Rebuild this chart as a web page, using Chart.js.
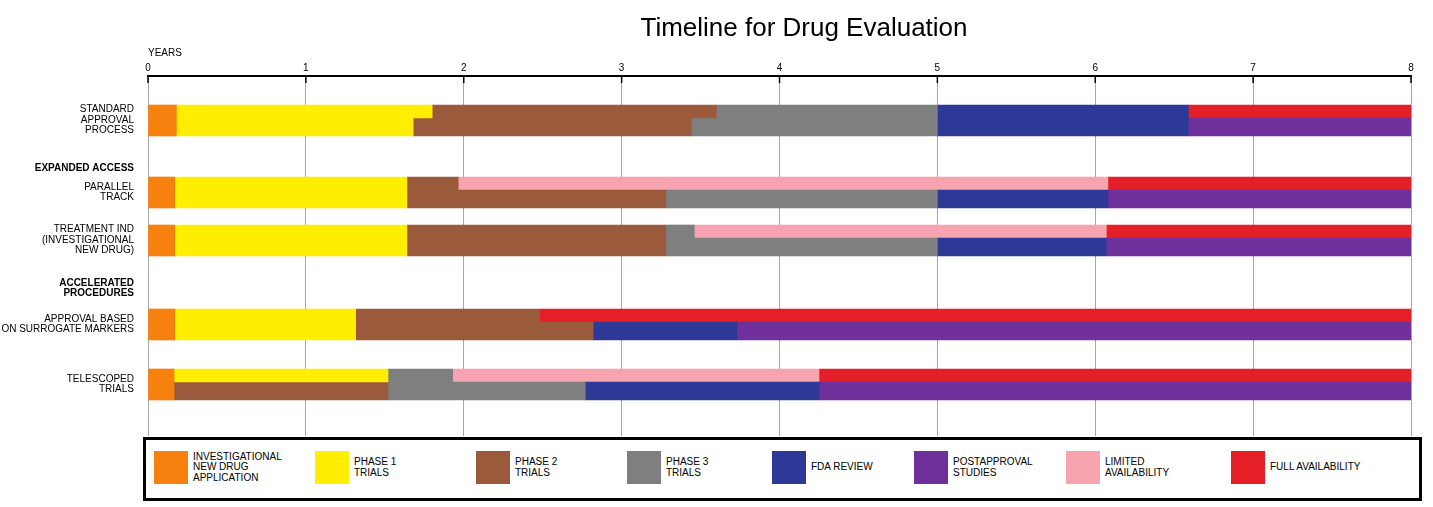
<!DOCTYPE html>
<html>
<head>
<meta charset="utf-8">
<script src="https://cdn.jsdelivr.net/npm/chart.js@4.4.1/dist/chart.umd.min.js"></script>
<style>
  html, body { margin: 0; padding: 0; background: #fff; }
  #wrap { position: relative; width: 1433px; height: 507px; overflow: hidden; font-family: "Liberation Sans", Arial, sans-serif; color: #000; }
  #chartBox { position: absolute; left: 0; top: 0; width: 1433px; height: 507px; }
  #title { position: absolute; left: 804px; top: 14px; transform: translateX(-50%); font-size: 26px; line-height: 26px; white-space: nowrap; }
  #legendBox { position: absolute; left: 143px; top: 437px; width: 1279px; height: 64px; box-sizing: border-box; border: 3.5px solid #000; background: #fff; }
  .item { position: absolute; top: 451px; height: 33px; display: flex; align-items: center; }
  .sw { width: 34px; height: 33px; margin-right: 5px; flex: none; }
  .txt { font-size: 10px; line-height: 10.5px; white-space: pre-line; }
</style>
</head>
<body>
<div id="wrap">
  <div id="chartBox"><canvas id="c"></canvas></div>
  <div id="title">Timeline for Drug Evaluation</div>
  <div id="legendBox"></div>
</div>
<script>
// ---------------- DATA ----------------
const yearTicks = [0, 1, 2, 3, 4, 5, 6, 7, 8];
const axisTitle = 'YEARS';

// Row categories (top to bottom); '|' separates label lines, '' = spacer row
const categories = [
  '', '', '', 'STANDARD|APPROVAL|PROCESS', '', '', '',
  'EXPANDED ACCESS', '', 'PARALLEL|TRACK', '', '', '',
  'TREATMENT IND|(INVESTIGATIONAL|NEW DRUG)', '', '', '',
  'ACCELERATED|PROCEDURES', '', '', 'APPROVAL BASED|ON SURROGATE MARKERS',
  '', '', '', '', 'TELESCOPED|TRIALS', '', '', '', ''
];
const groupHeaders = ['EXPANDED ACCESS', 'ACCELERATED|PROCEDURES'];
const processes = [
  'STANDARD|APPROVAL|PROCESS',
  'PARALLEL|TRACK',
  'TREATMENT IND|(INVESTIGATIONAL|NEW DRUG)',
  'APPROVAL BASED|ON SURROGATE MARKERS',
  'TELESCOPED|TRIALS'
];

// Phase names (legend) and colours
const phaseNames = [
  'INVESTIGATIONAL\nNEW DRUG\nAPPLICATION',
  'PHASE 1\nTRIALS',
  'PHASE 2\nTRIALS',
  'PHASE 3\nTRIALS',
  'FDA REVIEW',
  'POSTAPPROVAL\nSTUDIES',
  'LIMITED\nAVAILABILITY',
  'FULL AVAILABILITY'
];
const phaseColors = ['#F7810F', '#FFEE00', '#9B5A3C', '#7F7F7F', '#2E3896', '#70309B', '#F8A4B0', '#E51F27'];

// Year spans [start, end] per process (order of `processes`), upper half of each bar
const indTop       = [[0, 0.18], [0, 0.17], [0, 0.17], [0, 0.17], [0, 0.165]];
const phase1Top    = [[0.18, 1.80], [0.17, 1.64], [0.17, 1.64], [0.17, 1.315], [0.165, 1.52]];
const phase2Top    = [[1.80, 3.60], [1.64, 1.965], [1.64, 3.28], [1.315, 2.48], null];
const phase3Top    = [[3.60, 5.0], null, [3.28, 3.46], null, [1.52, 1.93]];
const fdaTop       = [[5.0, 6.59], null, null, null, null];
const postTop      = [null, null, null, null, null];
const limitedTop   = [null, [1.965, 6.08], [3.46, 6.07], null, [1.93, 4.25]];
const fullTop      = [[6.59, 8], [6.08, 8], [6.07, 8], [2.48, 8], [4.25, 8]];

// lower half of each bar
const indBottom     = [[0, 0.18], [0, 0.17], [0, 0.17], [0, 0.17], [0, 0.165]];
const phase1Bottom  = [[0.18, 1.68], [0.17, 1.64], [0.17, 1.64], [0.17, 1.315], null];
const phase2Bottom  = [[1.68, 3.44], [1.64, 3.28], [1.64, 3.28], [1.315, 2.82], [0.165, 1.52]];
const phase3Bottom  = [[3.44, 5.0], [3.28, 5.0], [3.28, 5.0], null, [1.52, 2.77]];
const fdaBottom     = [[5.0, 6.59], [5.0, 6.08], [5.0, 6.07], [2.82, 3.73], [2.77, 4.25]];
const postBottom    = [[6.59, 8], [6.08, 8], [6.07, 8], [3.73, 8], [4.25, 8]];
const limitedBottom = [null, null, null, null, null];
const fullBottom    = [null, null, null, null, null];

const topSpans = [indTop, phase1Top, phase2Top, phase3Top, fdaTop, postTop, limitedTop, fullTop];
const bottomSpans = [indBottom, phase1Bottom, phase2Bottom, phase3Bottom, fdaBottom, postBottom, limitedBottom, fullBottom];

// ---------------- BUILD ----------------
const FONT = "'Liberation Sans', Arial, sans-serif";
Chart.defaults.font.family = FONT;
Chart.defaults.color = '#000';

function toCategoryData(spans) {
  const data = categories.map(() => null);
  processes.forEach((p, r) => {
    if (spans[r]) data[categories.indexOf(p)] = spans[r];
  });
  return data;
}

const datasets = [];
phaseNames.forEach((name, k) => {
  datasets.push({
    label: name.replace(/\n/g, ' '), data: toCategoryData(topSpans[k]),
    backgroundColor: phaseColors[k], stack: 'top', barThickness: 13, borderWidth: 0
  });
  datasets.push({
    label: name.replace(/\n/g, ' '), data: toCategoryData(bottomSpans[k]),
    backgroundColor: phaseColors[k], stack: 'bottom', barThickness: 18, borderWidth: 0
  });
});

const tickMarks = {
  id: 'tickMarks',
  afterDraw(chart) {
    const s = chart.scales.x, ctx = chart.ctx;
    ctx.save();
    ctx.strokeStyle = '#000';
    ctx.lineWidth = 1.5;
    s.ticks.forEach(t => {
      const x = s.getPixelForValue(t.value);
      ctx.beginPath();
      ctx.moveTo(x, s.bottom);
      ctx.lineTo(x, s.bottom + 7);
      ctx.stroke();
    });
    ctx.restore();
  }
};

new Chart(document.getElementById('c'), {
  type: 'bar',
  data: { labels: categories, datasets },
  plugins: [tickMarks],
  options: {
    indexAxis: 'y',
    responsive: true,
    maintainAspectRatio: false,
    animation: false,
    layout: { padding: { top: 44, left: 0, right: 22, bottom: 71 } },
    plugins: { legend: { display: false }, tooltip: { enabled: false }, title: { display: false } },
    scales: {
      x: {
        type: 'linear', position: 'top', min: yearTicks[0], max: yearTicks[yearTicks.length - 1],
        stacked: false,
        afterBuildTicks: (scale) => { scale.ticks = yearTicks.map(v => ({ value: v })); },
        afterFit: (scale) => { scale.height = 32; },
        ticks: { font: { size: 10 }, padding: 2, color: '#000', maxRotation: 0 },
        grid: { color: '#a6a6a6', lineWidth: 1, drawTicks: false },
        border: { display: true, color: '#000', width: 2 },
        title: { display: true, text: axisTitle, align: 'start', font: { size: 10 }, padding: { top: 3, bottom: 0 }, color: '#000' }
      },
      y: {
        type: 'category', stacked: true,
        afterFit: (scale) => { scale.width = 148; },
        grid: { display: false, drawTicks: false },
        border: { display: false },
        ticks: {
          autoSkip: false, padding: 14, labelOffset: 2, color: '#000',
          callback: (v, i) => categories[i] ? categories[i].split('|') : '',
          font: (ctx) => ({
            size: 10, lineHeight: 1.05,
            weight: groupHeaders.includes(categories[ctx.index]) ? 'bold' : 'normal'
          })
        }
      }
    }
  }
});

// ---------------- HTML LEGEND ----------------
const legendLeft = [154, 315, 476, 627, 772, 914, 1066, 1231];
const wrap = document.getElementById('wrap');
phaseNames.forEach((name, k) => {
  const it = document.createElement('div');
  it.className = 'item';
  it.style.left = legendLeft[k] + 'px';
  const sw = document.createElement('div');
  sw.className = 'sw';
  sw.style.background = phaseColors[k];
  const tx = document.createElement('div');
  tx.className = 'txt';
  tx.textContent = name;
  it.appendChild(sw); it.appendChild(tx);
  wrap.appendChild(it);
});
</script>
</body>
</html>
